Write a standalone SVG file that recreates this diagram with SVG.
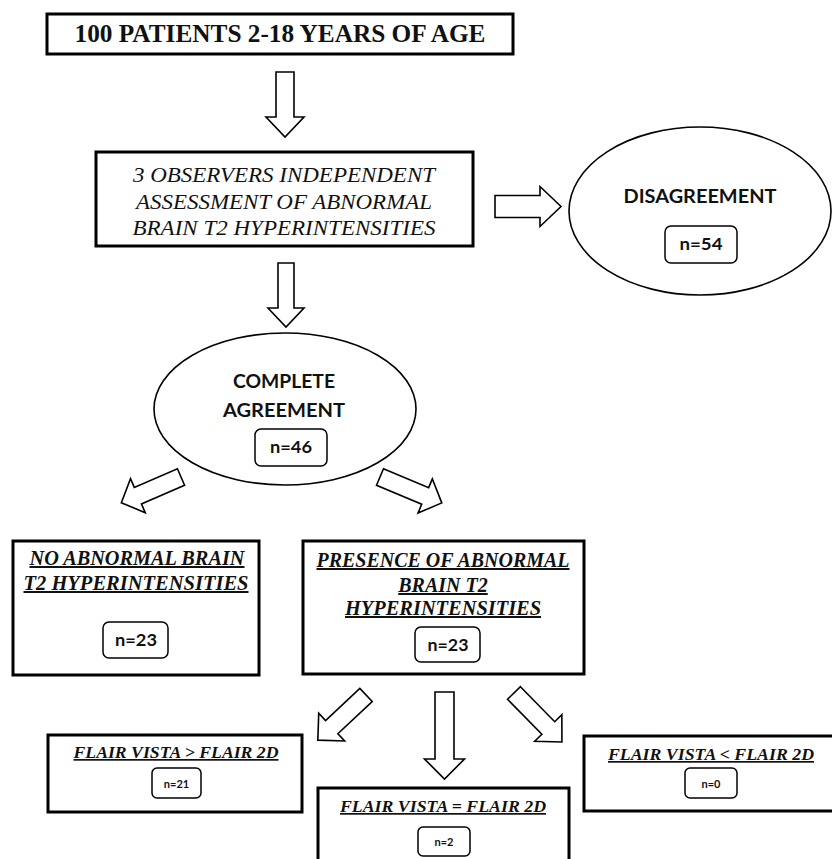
<svg xmlns="http://www.w3.org/2000/svg" width="832" height="859" viewBox="0 0 832 859">
<style>
.box{fill:#fff;stroke:#000;stroke-width:3}
.ell{fill:#fff;stroke:#000;stroke-width:1.6}
.nb{fill:#fff;stroke:#000;stroke-width:1.5}
.arr{fill:#fff;stroke:#000;stroke-width:1.6;stroke-linejoin:miter}
.serif{font-family:"Liberation Serif","Times New Roman",serif;fill:#111;text-anchor:middle}
.bi{font-weight:bold;font-style:italic;text-decoration:underline}
.it{font-style:italic}
.sans{font-family:Lato,"Liberation Sans",sans-serif;font-weight:bold;fill:#111;text-anchor:middle}
</style>
<rect width="832" height="859" fill="#fff"/>
<g id="connectors">
  <!-- local arrow: tail at 0, tip at L -->
  <polygon class="arr" transform="translate(285,72) rotate(90)" points="0,-9 45,-9 45,-19 65,0 45,19 45,9 0,9"/>
  <polygon class="arr" transform="translate(495,206.5) rotate(0)" points="0,-11 45,-11 45,-20 66,0 45,20 45,11 0,11"/>
  <polygon class="arr" transform="translate(286,263) rotate(90)" points="0,-8 45,-8 45,-18 64,0 45,18 45,8 0,8"/>
  <polygon class="arr" transform="translate(181,477) rotate(156.6)" points="0,-9 47,-9 47,-18.5 65,0 47,18.5 47,9 0,9"/>
  <polygon class="arr" transform="translate(380,477) rotate(22.75)" points="0,-9 49,-9 49,-18.5 67,0 49,18.5 49,9 0,9"/>
  <polygon class="arr" transform="translate(366,695) rotate(136.85)" points="0,-9 47,-9 47,-19 66,0 47,19 47,9 0,9"/>
  <polygon class="arr" transform="translate(444.5,692) rotate(90)" points="0,-9.5 67,-9.5 67,-20 87,0 67,20 67,9.5 0,9.5"/>
  <polygon class="arr" transform="translate(514,693) rotate(45.6)" points="0,-9 49,-9 49,-19 68.5,0 49,19 49,9 0,9"/>
</g>
<g id="n1">
  <rect class="box" x="47" y="14" width="466" height="40"/>
  <text class="serif" x="280" y="42" font-size="25" font-weight="bold" textLength="411" lengthAdjust="spacingAndGlyphs">100 PATIENTS 2-18 YEARS OF AGE</text>
</g>
<g id="n2">
  <rect class="box" x="96" y="152" width="377" height="94"/>
  <text class="serif it" font-size="22" x="284" y="182" textLength="302" lengthAdjust="spacingAndGlyphs">3 OBSERVERS INDEPENDENT</text>
  <text class="serif it" font-size="22" x="284" y="209" textLength="296" lengthAdjust="spacingAndGlyphs">ASSESSMENT OF ABNORMAL</text>
  <text class="serif it" font-size="22" x="284" y="235" textLength="303" lengthAdjust="spacingAndGlyphs">BRAIN T2 HYPERINTENSITIES</text>
</g>
<g id="n3">
  <ellipse class="ell" cx="700" cy="211" rx="131" ry="84"/>
  <text class="sans" x="700" y="203" font-size="18" textLength="153" lengthAdjust="spacingAndGlyphs">DISAGREEMENT</text>
  <rect class="nb" x="665" y="226" width="72" height="37" rx="6"/>
  <text class="sans" x="701" y="250" font-size="17" textLength="43" lengthAdjust="spacingAndGlyphs">n=54</text>
</g>
<g id="n4">
  <ellipse class="ell" cx="285" cy="409" rx="131" ry="76"/>
  <text class="sans" x="284" y="388" font-size="18" textLength="102" lengthAdjust="spacingAndGlyphs">COMPLETE</text>
  <text class="sans" x="284" y="417" font-size="18" textLength="122" lengthAdjust="spacingAndGlyphs">AGREEMENT</text>
  <rect class="nb" x="255" y="429" width="72" height="37" rx="6"/>
  <text class="sans" x="291" y="453" font-size="17" textLength="42" lengthAdjust="spacingAndGlyphs">n=46</text>
</g>
<g id="n5">
  <rect class="box" x="13" y="541" width="246" height="134"/>
  <text class="serif bi" font-size="20" x="137" y="565" textLength="215" lengthAdjust="spacingAndGlyphs">NO ABNORMAL BRAIN</text>
  <text class="serif bi" font-size="20" x="136" y="590" textLength="225" lengthAdjust="spacingAndGlyphs">T2 HYPERINTENSITIES</text>
  <rect class="nb" x="103" y="622" width="65" height="36" rx="6"/>
  <text class="sans" x="136" y="646" font-size="17" textLength="42" lengthAdjust="spacingAndGlyphs">n=23</text>
</g>
<g id="n6">
  <rect class="box" x="303" y="541" width="281" height="133"/>
  <text class="serif bi" font-size="20" x="443" y="567" textLength="253" lengthAdjust="spacingAndGlyphs">PRESENCE OF ABNORMAL</text>
  <text class="serif bi" font-size="20" x="443" y="592">BRAIN T2</text>
  <text class="serif bi" font-size="20" x="443" y="615" textLength="196" lengthAdjust="spacingAndGlyphs">HYPERINTENSITIES</text>
  <rect class="nb" x="415" y="627" width="65" height="35" rx="6"/>
  <text class="sans" x="448" y="651" font-size="17" textLength="41" lengthAdjust="spacingAndGlyphs">n=23</text>
</g>
<g id="n7">
  <rect class="box" x="48" y="735" width="254" height="77"/>
  <text class="serif bi" font-size="17" x="176" y="758" textLength="205" lengthAdjust="spacingAndGlyphs">FLAIR VISTA &gt; FLAIR 2D</text>
  <rect class="nb" x="152" y="768" width="49" height="30" rx="5"/>
  <text class="sans" x="176.5" y="788" font-size="11">n=21</text>
</g>
<g id="n8">
  <rect class="box" x="318" y="788" width="251" height="80"/>
  <text class="serif bi" font-size="17" x="443" y="812" textLength="206" lengthAdjust="spacingAndGlyphs">FLAIR VISTA = FLAIR 2D</text>
  <rect class="nb" x="418" y="827" width="52" height="29" rx="5"/>
  <text class="sans" x="444" y="846" font-size="11">n=2</text>
</g>
<g id="n9">
  <rect class="box" x="584" y="736" width="260" height="75"/>
  <text class="serif bi" font-size="17" x="711" y="760" textLength="206" lengthAdjust="spacingAndGlyphs">FLAIR VISTA &lt; FLAIR 2D</text>
  <rect class="nb" x="685" y="768" width="52" height="30" rx="5"/>
  <text class="sans" x="711" y="788" font-size="11">n=0</text>
</g>
</svg>
